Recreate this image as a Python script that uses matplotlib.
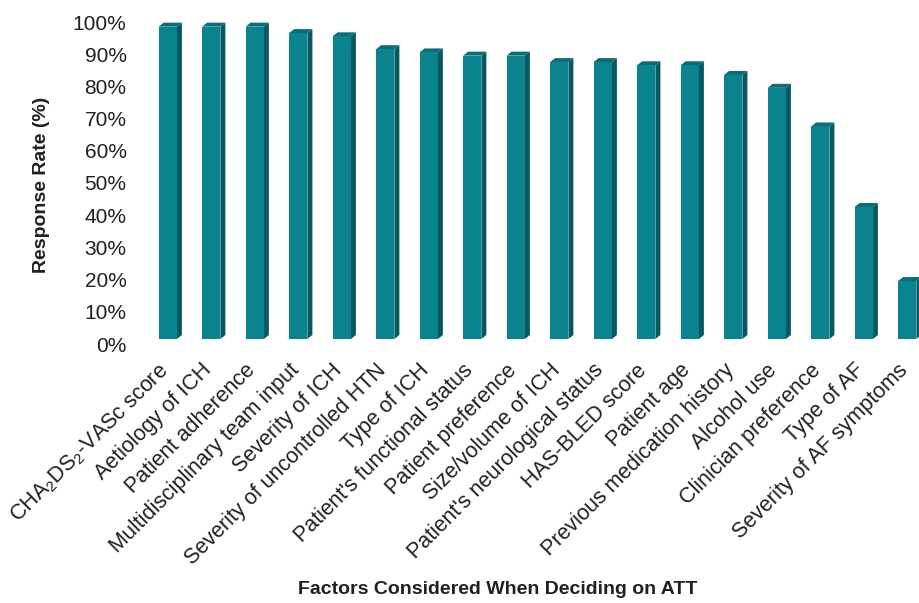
import numpy as np
import matplotlib
matplotlib.use('Agg')
import matplotlib.pyplot as plt
import matplotlib.transforms as mtransforms
from matplotlib.patches import Polygon

plt.rcParams['font.family'] = ['Liberation Sans', 'DejaVu Sans']
plt.rcParams['mathtext.default'] = 'regular'

# Data
factors = [r'CHA$_2$DS$_2$-VASc score', 'Aetiology of ICH', 'Patient adherence',
           'Multidisciplinary team input', 'Severity of ICH',
           'Severity of uncontrolled HTN', 'Type of ICH',
           "Patient's functional status", 'Patient preference',
           'Size/volume of ICH', "Patient's neurological status",
           'HAS-BLED score', 'Patient age', 'Previous medication history',
           'Alcohol use', 'Clinician preference', 'Type of AF',
           'Severity of AF symptoms']
rates = [97, 97, 97, 95, 94, 90, 89, 88, 88, 86, 86, 85, 85, 82, 78, 66, 41, 18]
yticks = [0, 10, 20, 30, 40, 50, 60, 70, 80, 90, 100]

# colours
front_col = '#0a838f'
side_col = '#065961'
top_col = '#0a6d78'
text_col = '#231f20'

W, H = 919, 603
fig = plt.figure(figsize=(W/100, H/100), dpi=100)
ax = fig.add_axes([146/W, (H-339)/H, (919-146)/W, 322/H])

x = np.arange(len(factors))
ax.set_xlim(-0.5, 17.27)
ax.set_ylim(0, 100)

bw = 0.42
# depth offsets (pixels -> data)
px_x = (ax.get_position().width*W) / (17.27+0.5)
px_y = (ax.get_position().height*H) / 100
ddx = 5/px_x
ddy = 4/px_y

ax.bar(x, rates, width=bw, color=front_col, zorder=3, clip_on=False)
for xi, v in zip(x, rates):
    r = xi + bw/2
    l = xi - bw/2
    side = Polygon([(r, 0), (r+ddx, ddy), (r+ddx, v+ddy), (r, v)],
                   closed=True, facecolor=side_col, edgecolor='none', zorder=2, clip_on=False)
    top = Polygon([(l, v), (l+ddx, v+ddy), (r+ddx, v+ddy), (r, v)],
                  closed=True, facecolor=top_col, edgecolor='none', zorder=2, clip_on=False)
    ax.add_patch(side)
    ax.add_patch(top)

for s in ax.spines.values():
    s.set_visible(False)

ax.set_yticks(yticks)
ax.set_yticklabels([f'{t}%' for t in yticks], fontsize=15, color=text_col)
ax.tick_params(axis='y', length=0, pad=14)
ax.set_xticks(x)
ax.set_xticklabels(factors, rotation=45, ha='right', va='top', rotation_mode='anchor',
                   fontsize=15.5, color=text_col)
ax.tick_params(axis='x', length=0, pad=15)

# nudge tick labels to match the reference
yoff = mtransforms.ScaledTranslation(0, -5/100, fig.dpi_scale_trans)
for lab in ax.get_yticklabels():
    lab.set_transform(lab.get_transform() + yoff)
xoff = mtransforms.ScaledTranslation(-10/100, 0, fig.dpi_scale_trans)
for lab in ax.get_xticklabels():
    lab.set_transform(lab.get_transform() + xoff)

fig.text(42/W, 1-185/H, 'Response Rate (%)', rotation=90, fontsize=14, fontweight='bold',
         color=text_col, ha='center', va='center')
fig.text(498/W, 1-589/H, 'Factors Considered When Deciding on ATT', fontsize=14,
         fontweight='bold', color=text_col, ha='center', va='center')

plt.savefig('out.png', dpi=100)
